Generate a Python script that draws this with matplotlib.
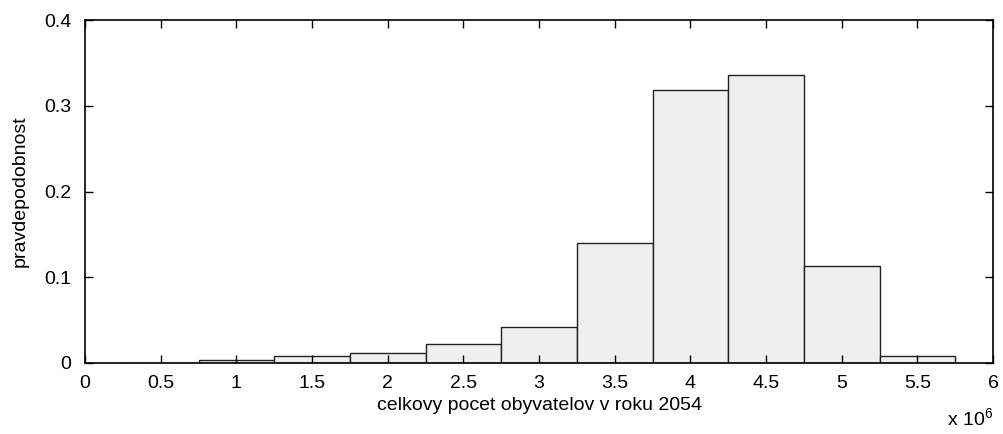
import matplotlib
matplotlib.use('Agg')
import matplotlib.pyplot as plt

plt.rcParams['font.family'] = ['Liberation Sans', 'DejaVu Sans']
plt.rcParams['mathtext.default'] = 'regular'

# bin centres in millions of inhabitants
centers = [0.5, 1.0, 1.5, 2.0, 2.5, 3.0, 3.5, 4.0, 4.5, 5.0, 5.5]
probs = [0.0, 0.004, 0.008, 0.012, 0.022, 0.042, 0.140, 0.318, 0.3355, 0.113, 0.008]
xticks = [0, 0.5, 1, 1.5, 2, 2.5, 3, 3.5, 4, 4.5, 5, 5.5, 6]
xticklabels = ['0', '0.5', '1', '1.5', '2', '2.5', '3', '3.5', '4', '4.5', '5', '5.5', '6']
yticks = [0, 0.1, 0.2, 0.3, 0.4]
yticklabels = ['0', '0.1', '0.2', '0.3', '0.4']

fig = plt.figure(figsize=(10.04, 4.34), dpi=100)
ax = fig.add_axes([0.0847, 0.1636, 0.9044, 0.7903])

ax.bar(centers, probs, width=0.5, color='#efefef', edgecolor='#222222', linewidth=1.0)

ax.set_xlim(0, 6)
ax.set_ylim(0, 0.4)
ax.set_xticks(xticks)
ax.set_xticklabels(xticklabels)
ax.set_yticks(yticks)
ax.set_yticklabels(yticklabels)
ax.tick_params(direction='in', length=6, width=1, top=True, right=True, labelsize=14)
ax.tick_params(axis='x', pad=9)
ax.tick_params(axis='y', pad=10)
for s in ax.spines.values():
    s.set_linewidth(1.2)

ax.set_xlabel('celkovy pocet obyvatelov v roku 2054', fontsize=14, labelpad=3)
ax.set_ylabel('pravdepodobnost', fontsize=14, labelpad=11)
ax.text(1.0, -0.181, 'x 10$^{6}$', transform=ax.transAxes, ha='right', va='baseline', fontsize=14)

fig.savefig('out.png', dpi=100)
